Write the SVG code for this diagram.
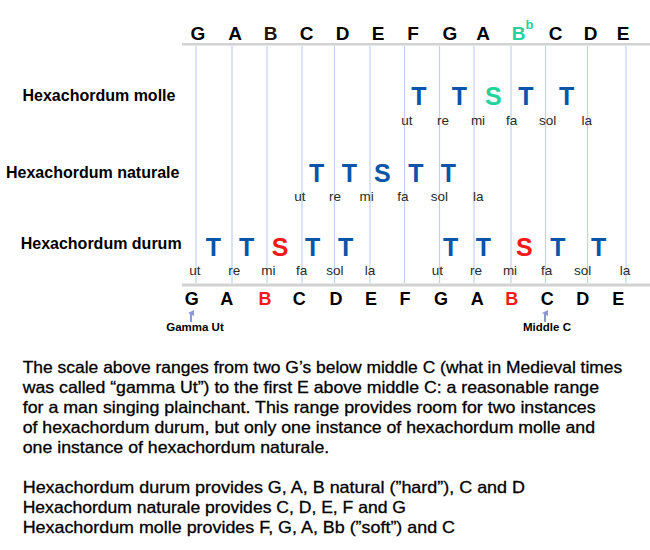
<svg xmlns="http://www.w3.org/2000/svg" width="650" height="550" viewBox="0 0 650 550">
<style>
.note{font-family:"Liberation Sans",Arial,sans-serif;font-weight:bold;fill:#000}
.top{font-size:19px}
.bot{font-size:18px}
.lbl{font-family:"Liberation Sans",Arial,sans-serif;font-weight:bold;font-size:16px;fill:#000}
.step{font-family:"Liberation Sans",Arial,sans-serif;font-weight:bold;font-size:25px;fill:#0a55a8;text-anchor:middle}
.red{fill:#f51818}
.grn{fill:#22d49c}
.syl{font-family:"Liberation Sans",Arial,sans-serif;font-size:13.5px;fill:#2a2a2a;text-anchor:middle}
.small{font-family:"Liberation Sans",Arial,sans-serif;font-weight:bold;font-size:11.5px;fill:#000;text-anchor:middle}
.body{font-family:"Liberation Sans",Arial,sans-serif;font-size:16.5px;fill:#000;stroke:#000;stroke-width:0.3}
.grid line{stroke:#c2cff3;stroke-width:1.2}
.arrow{stroke:#8a9ad6;stroke-width:2;fill:none}
</style>
<defs>
<marker id="ah" markerWidth="6" markerHeight="6" refX="3" refY="3" orient="auto" markerUnits="userSpaceOnUse">
<path d="M0,6 L3,0 L6,6 Z" fill="#8a9ad6"/>
</marker>
</defs>
<rect width="650" height="550" fill="#fff"/>

<g id="grid" class="grid">
<line x1="196" y1="46" x2="196" y2="283"/>
<line x1="232" y1="46" x2="232" y2="283"/>
<line x1="267" y1="46" x2="267" y2="283"/>
<line x1="302" y1="46" x2="302" y2="283"/>
<line x1="334.5" y1="46" x2="334.5" y2="283"/>
<line x1="370" y1="46" x2="370" y2="283"/>
<line x1="404.5" y1="46" x2="404.5" y2="283"/>
<line x1="439.5" y1="46" x2="439.5" y2="283"/>
<line x1="474" y1="46" x2="474" y2="283"/>
<line x1="511" y1="46" x2="511" y2="283"/>
<line x1="545.5" y1="46" x2="545.5" y2="283"/>
<line x1="587.5" y1="46" x2="587.5" y2="283"/>
<line x1="626" y1="46" x2="626" y2="283"/>
<rect x="182" y="43" width="468" height="2.5" fill="#d2d2d2"/>
<rect x="182" y="283.5" width="468" height="3" fill="#d2d2d2"/>
</g>

<g id="top-scale" class="note top" text-anchor="middle">
<text x="198" y="39.5">G</text>
<text x="235" y="39.5">A</text>
<text x="270.7" y="39.5" fill="#2a1212">B</text>
<text x="306.7" y="39.5">C</text>
<text x="342.7" y="39.5">D</text>
<text x="378" y="39.5">E</text>
<text x="413" y="39.5">F</text>
<text x="450" y="39.5">G</text>
<text x="483" y="39.5">A</text>
<text x="518.5" y="39.5" class="grn">B</text>
<text x="529.5" y="28.5" class="grn" font-size="13px">b</text>
<text x="555.7" y="39.5">C</text>
<text x="590.7" y="39.5">D</text>
<text x="623" y="39.5">E</text>
</g>

<g id="molle">
<text class="lbl" x="22.5" y="100.7">Hexachordum molle</text>
<text class="step" x="419" y="105">T</text>
<text class="step" x="459.3" y="105">T</text>
<text class="step grn" x="493.3" y="105">S</text>
<text class="step" x="526" y="105">T</text>
<text class="step" x="566.7" y="105">T</text>
<text class="syl" x="407" y="125">ut</text>
<text class="syl" x="443" y="125">re</text>
<text class="syl" x="478" y="125">mi</text>
<text class="syl" x="511.7" y="125">fa</text>
<text class="syl" x="547.7" y="125">sol</text>
<text class="syl" x="586.7" y="125">la</text>
</g>

<g id="naturale">
<text class="lbl" x="6" y="178.3">Hexachordum naturale</text>
<text class="step" x="316.7" y="182">T</text>
<text class="step" x="349.3" y="182">T</text>
<text class="step" x="382.3" y="182">S</text>
<text class="step" x="416" y="182">T</text>
<text class="step" x="448.3" y="182">T</text>
<text class="syl" x="300" y="200.5">ut</text>
<text class="syl" x="335" y="200.5">re</text>
<text class="syl" x="366.7" y="200.5">mi</text>
<text class="syl" x="403" y="200.5">fa</text>
<text class="syl" x="439.3" y="200.5">sol</text>
<text class="syl" x="478.3" y="200.5">la</text>
</g>

<g id="durum">
<text class="lbl" x="20.7" y="249.3">Hexachordum durum</text>
<text class="step" x="213.3" y="256">T</text>
<text class="step" x="246.7" y="256">T</text>
<text class="step red" x="280" y="256">S</text>
<text class="step" x="312.7" y="256">T</text>
<text class="step" x="345.7" y="256">T</text>
<text class="step" x="450.7" y="256">T</text>
<text class="step" x="483.3" y="256">T</text>
<text class="step red" x="524.3" y="256">S</text>
<text class="step" x="558" y="256">T</text>
<text class="step" x="598.7" y="256">T</text>
<text class="syl" x="195" y="275">ut</text>
<text class="syl" x="234.3" y="275">re</text>
<text class="syl" x="268.3" y="275">mi</text>
<text class="syl" x="301.7" y="275">fa</text>
<text class="syl" x="335" y="275">sol</text>
<text class="syl" x="370" y="275">la</text>
<text class="syl" x="437.3" y="275">ut</text>
<text class="syl" x="476" y="275">re</text>
<text class="syl" x="510" y="275">mi</text>
<text class="syl" x="546.7" y="275">fa</text>
<text class="syl" x="582.7" y="275">sol</text>
<text class="syl" x="625" y="275">la</text>
</g>

<g id="bottom-scale" class="note bot" text-anchor="middle">
<text x="191.7" y="305">G</text>
<text x="226.7" y="305">A</text>
<text x="265" y="305" class="red">B</text>
<text x="299.3" y="305">C</text>
<text x="336" y="305">D</text>
<text x="371" y="305">E</text>
<text x="405" y="305">F</text>
<text x="441" y="305">G</text>
<text x="477.3" y="305">A</text>
<text x="511.7" y="305" class="red">B</text>
<text x="547.3" y="305">C</text>
<text x="582.7" y="305">D</text>
<text x="618.3" y="305">E</text>
</g>

<g id="connectors">
<line class="arrow" x1="191" y1="322" x2="191" y2="313" marker-end="url(#ah)"/>
<line class="arrow" x1="545" y1="322" x2="545" y2="313" marker-end="url(#ah)"/>
</g>

<g id="gamma-ut"><text class="small" x="195" y="331">Gamma Ut</text></g>
<g id="middle-c"><text class="small" x="547" y="331">Middle C</text></g>

<g id="explanation" class="body" lengthAdjust="spacingAndGlyphs">
<text x="22.7" y="373" textLength="599.6" lengthAdjust="spacingAndGlyphs">The scale above ranges from two G’s below middle C (what in Medieval times</text>
<text x="22.7" y="393" textLength="576.3" lengthAdjust="spacingAndGlyphs">was called “gamma Ut”) to the first E above middle C: a reasonable range</text>
<text x="22.7" y="413" textLength="573" lengthAdjust="spacingAndGlyphs">for a man singing plainchant. This range provides room for two instances</text>
<text x="22.7" y="432.5" textLength="572.3" lengthAdjust="spacingAndGlyphs">of hexachordum durum, but only one instance of hexachordum molle and</text>
<text x="22.7" y="452.5" textLength="306.5" lengthAdjust="spacingAndGlyphs">one instance of hexachordum naturale.</text>
<text x="22.7" y="492.5" textLength="502.3" lengthAdjust="spacingAndGlyphs">Hexachordum durum provides G, A, B natural (”hard”), C and D</text>
<text x="22.7" y="512.5" textLength="383.3" lengthAdjust="spacingAndGlyphs">Hexachordum naturale provides C, D, E, F and G</text>
<text x="22.7" y="532.5" textLength="432.3" lengthAdjust="spacingAndGlyphs">Hexachordum molle provides F, G, A, Bb (”soft”) and C</text>
</g>
</svg>
